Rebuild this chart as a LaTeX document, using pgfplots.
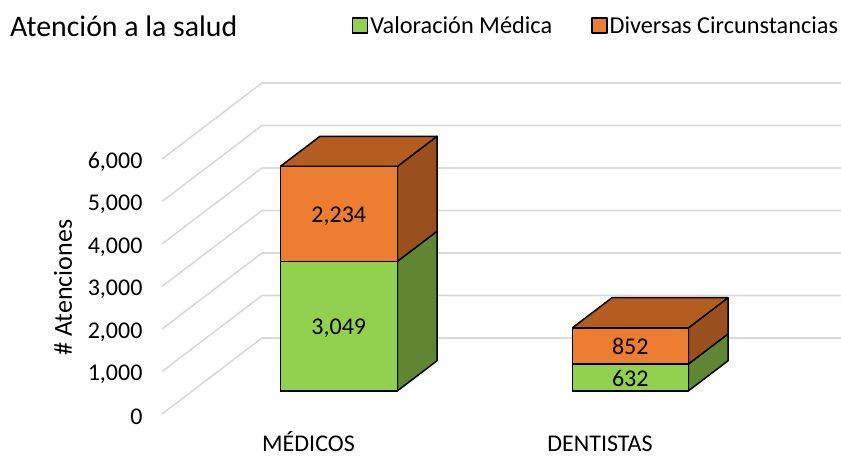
\documentclass[border=0pt]{standalone}
\usepackage{pgfplots}
\pgfplotsset{compat=1.18}
\usepackage{fontspec}
\setmainfont{Carlito}
\definecolor{vm}{HTML}{92D050}
\definecolor{vmside}{HTML}{5F8733}
\definecolor{dc}{HTML}{ED7D31}
\definecolor{dcside}{HTML}{9A501C}
\definecolor{dctop}{HTML}{B35D20}
\definecolor{gridc}{HTML}{D9D9D9}
\begin{document}
\begin{tikzpicture}
\path[use as bounding box] (0,0) rectangle (841pt,456pt);
\node[anchor=west,inner sep=0pt,font=\fontsize{29.8}{32}\selectfont] at (10pt,430pt) {Atención a la salud};
\begin{axis}[
  at={(162pt,42pt)},anchor=origin,
  x={(1pt,0pt)},y={(1pt,0.76pt)},z={(0pt,0.0425pt)},
  xmin=0,xmax=579,ymin=0,ymax=100,zmin=0,zmax=6000,
  clip=false,
  axis line style={draw=none},
  tick style={draw=none},
  major tick length=0pt,
  xtick={146.5,438},
  xticklabels={MÉDICOS,DENTISTAS},
  ytick=\empty,
  ztick={0,1000,2000,3000,4000,5000,6000},
  xticklabel pos=lower,
  zticklabel pos=left,
  /pgf/number format/assume math mode=true,
  /pgf/number format/1000 sep={,},
  scaled z ticks=false,
  ticklabel style={text=black},
  xticklabel style={font=\fontsize{24}{26}\selectfont,anchor=base,inner sep=0pt,at={(0,0)}},
  every x tick label/.append style={yshift=-37pt},
  zticklabel style={font=\fontsize{24}{26}\selectfont,anchor=east,xshift=-16pt,yshift=-3pt},
  zlabel={\# Atenciones},
  every axis z label/.style={at={(axis cs:0,0,3000)},anchor=center,xshift=-99pt,yshift=-1pt,rotate=90,font=\fontsize{26}{28}\selectfont},
  legend columns=2,
  legend style={draw=none,fill=none,at={(axis cs:434,0,9129)},anchor=center,font=\fontsize{24.3}{26}\selectfont,
    /tikz/every even column/.append style={column sep=37pt},inner sep=0pt},
  legend image code/.code={\draw[#1,draw=black,line width=1.4pt] (0pt,-7pt) rectangle (15pt,8pt);},
]
% back wall and floor gridlines
\addplot3[gridc,line width=1.6pt,forget plot] coordinates {(0,0,0)(0,100,0)(579,100,0)};
\addplot3[gridc,line width=1.6pt,forget plot] coordinates {(0,0,1000)(0,100,1000)(579,100,1000)};
\addplot3[gridc,line width=1.6pt,forget plot] coordinates {(0,0,2000)(0,100,2000)(579,100,2000)};
\addplot3[gridc,line width=1.6pt,forget plot] coordinates {(0,0,3000)(0,100,3000)(579,100,3000)};
\addplot3[gridc,line width=1.6pt,forget plot] coordinates {(0,0,4000)(0,100,4000)(579,100,4000)};
\addplot3[gridc,line width=1.6pt,forget plot] coordinates {(0,0,5000)(0,100,5000)(579,100,5000)};
\addplot3[gridc,line width=1.6pt,forget plot] coordinates {(0,0,6000)(0,100,6000)(579,100,6000)};
% Medicos sides and top
\addplot3[fill=vmside,draw=black,line width=1.5pt,line join=round,forget plot] coordinates {(205,30.3,0)(205,70,0)(205,70,3049)(205,30.3,3049)(205,30.3,0)};
\addplot3[fill=dcside,draw=black,line width=1.5pt,line join=round,forget plot] coordinates {(205,30.3,3049)(205,70,3049)(205,70,5283)(205,30.3,5283)(205,30.3,3049)};
\addplot3[fill=dctop,draw=black,line width=1.5pt,line join=round,forget plot] coordinates {(88,30.3,5283)(205,30.3,5283)(205,70,5283)(88,70,5283)(88,30.3,5283)};
% Dentistas sides and top
\addplot3[fill=vmside,draw=black,line width=1.5pt,line join=round,forget plot] coordinates {(496,30.3,0)(496,70,0)(496,70,632)(496,30.3,632)(496,30.3,0)};
\addplot3[fill=dcside,draw=black,line width=1.5pt,line join=round,forget plot] coordinates {(496,30.3,632)(496,70,632)(496,70,1484)(496,30.3,1484)(496,30.3,632)};
\addplot3[fill=dctop,draw=black,line width=1.5pt,line join=round,forget plot] coordinates {(380,30.3,1484)(496,30.3,1484)(496,70,1484)(380,70,1484)(380,30.3,1484)};
% Fronts
\addplot3[fill=vm,draw=black,line width=1.5pt,line join=round] coordinates {(88,30.3,0)(205,30.3,0)(205,30.3,3049)(88,30.3,3049)(88,30.3,0)};
\addlegendentry{Valoración Médica}
\addplot3[fill=dc,draw=black,line width=1.5pt,line join=round] coordinates {(88,30.3,3049)(205,30.3,3049)(205,30.3,5283)(88,30.3,5283)(88,30.3,3049)};
\addlegendentry{Diversas Circunstancias}
\addplot3[fill=vm,draw=black,line width=1.5pt,line join=round,forget plot] coordinates {(380,30.3,0)(496,30.3,0)(496,30.3,632)(380,30.3,632)(380,30.3,0)};
\addplot3[fill=dc,draw=black,line width=1.5pt,line join=round,forget plot] coordinates {(380,30.3,632)(496,30.3,632)(496,30.3,1484)(380,30.3,1484)(380,30.3,632)};
% Data labels
\addplot3[draw=none,mark=none,forget plot,point meta=explicit symbolic,
  nodes near coords,nodes near coords style={anchor=center,yshift=-1pt,text=black,font=\fontsize{24}{26}\selectfont}]
  coordinates {(146.5,30.3,1490)[3,049] (146.5,30.3,4140)[2,234] (438,30.3,316)[632] (438,30.3,1070)[852]};
\end{axis}
\end{tikzpicture}
\end{document}
